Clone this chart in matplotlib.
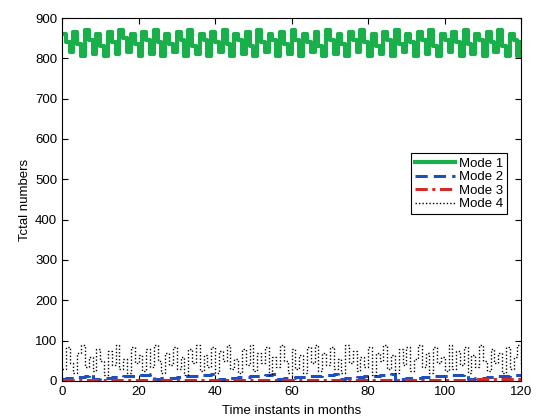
#!/usr/bin/env python3
"""Total numbers per mode over 120 months, MATLAB-style step plot."""

import numpy as np
import matplotlib

matplotlib.use("Agg")
import matplotlib.pyplot as plt

plt.rcParams["font.family"] = ["Liberation Sans", "DejaVu Sans"]

MODE1 = [
    860, 840, 815, 865, 835, 805, 870, 845, 810, 860, 830, 805,
    865, 840, 810, 870, 850, 815, 860, 835, 805, 865, 845, 810,
    870, 840, 805, 860, 835, 815, 865, 845, 805, 870, 830, 810,
    860, 845, 805, 865, 840, 815, 870, 835, 805, 860, 845, 810,
    865, 830, 805, 870, 840, 815, 860, 845, 805, 865, 835, 810,
    870, 845, 805, 860, 840, 815, 865, 830, 805, 870, 845, 810,
    860, 835, 805, 865, 845, 815, 870, 840, 805, 860, 830, 810,
    865, 845, 805, 870, 835, 815, 860, 840, 805, 865, 845, 810,
    870, 830, 805, 860, 845, 815, 865, 840, 805, 870, 835, 810,
    860, 845, 805, 865, 840, 815, 870, 830, 805, 860, 845, 805,
    840,
]

MODE2 = [
    5, 6, 7, 8, 9, 10, 11, 16,
    4, 5, 6, 7, 8, 9, 10, 10, 11, 12, 12, 13, 14, 14, 15, 18,
    4, 5, 6, 7, 8, 8, 9, 10, 11, 11, 12, 13, 14, 14, 15, 18,
    3, 4, 5, 6, 7, 8, 9, 10, 10, 11, 12, 13, 13, 14, 15, 17,
    4, 5, 6, 7, 8, 9, 9, 10, 11, 12, 12, 13, 14, 15, 15, 18,
    4, 5, 6, 7, 8, 9, 10, 11, 11, 12, 13, 14, 14, 15, 17,
    3, 4, 5, 6, 7, 8, 8, 9, 10, 10, 11, 12, 12, 13, 14, 14, 15, 15, 18,
    4, 5, 6, 7, 8, 9, 10, 11, 12, 13, 13, 14, 15, 15, 16,
]

MODE3 = [
    2, 2, 1, 2, 3, 2, 2, 1, 2, 2, 3, 2,
    2, 1, 2, 2, 3, 2, 1, 2, 2, 3, 2, 2,
    1, 2, 2, 3, 2, 2, 1, 2, 3, 2, 2, 1,
    2, 3, 2, 2, 1, 2, 2, 3, 2, 1, 2, 2,
    3, 2, 2, 1, 2, 2, 3, 2, 2, 1, 2, 3,
    2, 2, 1, 2, 3, 2, 2, 1, 2, 2, 3, 2,
    2, 1, 2, 2, 3, 2, 1, 2, 2, 3, 2, 2,
    1, 2, 2, 3, 2, 2, 1, 2, 3, 2, 2, 1,
    2, 2, 3, 2, 2, 1, 2, 2, 3, 2, 2, 3,
    4, 4, 5, 4, 4, 5, 4, 4, 5, 4, 4, 5,
    4,
]

MODE4 = [
    30, 85, 45, 20, 70, 90, 35, 60, 25, 80, 50, 15,
    75, 40, 90, 30, 55, 20, 85, 45, 65, 25, 80, 35,
    90, 50, 20, 70, 40, 85, 30, 60, 15, 80, 45, 90,
    25, 65, 35, 85, 20, 75, 50, 90, 30, 55, 20, 80,
    40, 90, 25, 70, 45, 85, 15, 60, 35, 90, 50, 20,
    80, 30, 65, 20, 85, 45, 90, 25, 70, 40, 85, 30,
    55, 20, 90, 45, 75, 25, 60, 35, 85, 15, 70, 50,
    90, 30, 65, 20, 80, 40, 85, 25, 55, 90, 35, 70,
    20, 85, 45, 60, 25, 90, 30, 75, 40, 85, 20, 65,
    35, 90, 50, 25, 80, 45, 70, 20, 85, 30, 60, 90,
    40,
]

X_TICKS = [0, 20, 40, 60, 80, 100, 120]
Y_TICKS = [0, 100, 200, 300, 400, 500, 600, 700, 800, 900]


def main():
    fig = plt.figure(figsize=(5.39, 4.19), dpi=100)
    ax = fig.add_axes([0.115, 0.091, 0.852, 0.866])

    series = [
        (MODE1, "Mode 1", dict(color="#19b04b", lw=3.0, ls="-")),
        (MODE2, "Mode 2", dict(color="#1f4fbf", lw=2.2, ls=(0, (4, 2)))),
        (MODE3, "Mode 3", dict(color="#d42a2a", lw=2.2, ls=(0, (4, 1.5, 1, 1.5)))),
        (MODE4, "Mode 4", dict(color="black", lw=1.0, ls=(0, (1, 1.5)))),
    ]
    for vals, label, style in series:
        ax.plot(np.arange(len(vals)), vals, drawstyle="steps-post", label=label, **style)

    ax.set_xlim(0, 120)
    ax.set_ylim(0, 900)
    ax.set_xticks(X_TICKS)
    ax.set_yticks(Y_TICKS)
    ax.tick_params(direction="in", top=True, right=True, labelsize=9.5, length=4)
    ax.set_xlabel("Time instants in months", fontsize=9.5, labelpad=5)
    ax.set_ylabel("Tctal numbers", fontsize=9.5, labelpad=3)

    leg = ax.legend(
        loc="upper right",
        bbox_to_anchor=(0.983, 0.645),
        fontsize=9.5,
        fancybox=False,
        framealpha=1,
        edgecolor="black",
        handlelength=3.0,
        handletextpad=0.3,
        borderpad=0.3,
        labelspacing=0.1,
    )
    leg.get_frame().set_linewidth(0.8)

    fig.savefig("out.png", dpi=100)
    plt.close(fig)


if __name__ == "__main__":
    main()
